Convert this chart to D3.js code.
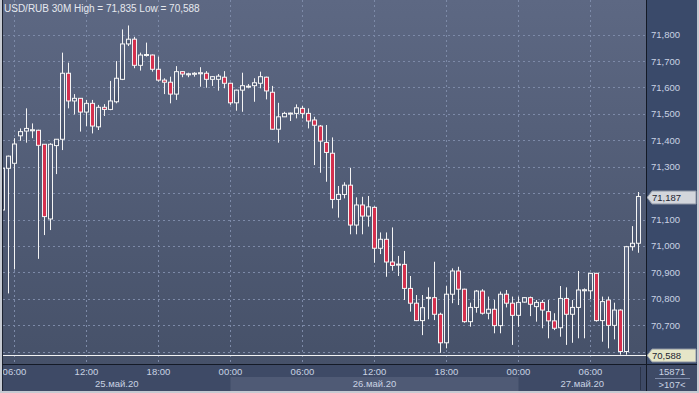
<!DOCTYPE html>
<html>
<head>
<meta charset="utf-8">
<script src="https://cdn.jsdelivr.net/npm/d3@7"></script>
<style>
  body { margin: 0; background: #c6cad2; }
  svg { display: block; font-family: "Liberation Sans", Arial, sans-serif; }
</style>
</head>
<body>
<svg id="chart"></svg>
<script>
// data (30 minute bars, first one 25 May 05:00)
const symbol = "USD/RUB 30M"
const firstBar = "2020-05-25T05:00:00Z"

const opens = [71136, 71294, 71313, 71417, 71435, 71436, 71438, 71385, 71102, 71380,
  71404, 71654, 71549, 71559, 71507, 71540, 71451, 71525, 71517, 71546,
  71631, 71765, 71783, 71684, 71723, 71723, 71669, 71628, 71620, 71575,
  71660, 71648, 71650, 71652, 71654, 71631, 71631, 71639, 71616, 71542,
  71590, 71602, 71607, 71616, 71639, 71582, 71442, 71489, 71500, 71502,
  71521, 71502, 71477, 71454, 71392, 71351, 71176, 71195, 71230, 71079,
  71155, 71113, 71146, 70991, 71025, 70939, 70928, 70930, 70839, 70783,
  70717, 70802, 70804, 70741, 70633, 70817, 70905, 70836, 70713, 70767,
  70829, 70745, 70760, 70698, 70817, 70783, 70737, 70787, 70804, 70770,
  70786, 70751, 70716, 70690, 70801, 70741, 70767, 70830, 70830, 70896,
  70717, 70795, 70699, 70757, 70600, 70997, 71010]
const highs = [71310, 71342, 71408, 71445, 71521, 71464, 71440, 71386, 71389, 71405,
  71732, 71694, 71575, 71560, 71553, 71553, 71534, 71537, 71625, 71700,
  71820, 71835, 71792, 71732, 71770, 71725, 71717, 71635, 71641, 71681,
  71662, 71656, 71658, 71677, 71662, 71643, 71651, 71662, 71618, 71592,
  71656, 71613, 71635, 71660, 71641, 71606, 71542, 71508, 71505, 71536,
  71530, 71521, 71489, 71458, 71458, 71411, 71227, 71241, 71296, 71184,
  71186, 71189, 71150, 71051, 71051, 71070, 70962, 70981, 70886, 70814,
  70814, 70843, 70940, 70747, 70848, 70915, 70921, 70838, 70785, 70833,
  70836, 70808, 70795, 70827, 70833, 70808, 70808, 70806, 70808, 70795,
  70795, 70795, 70745, 70848, 70843, 70795, 70905, 70839, 70898, 70898,
  70808, 70808, 70785, 70760, 71000, 71075, 71204]
const lows = [71100, 70820, 70911, 71398, 71391, 71408, 70951, 71041, 71060, 71272,
  71363, 71521, 71498, 71433, 71454, 71426, 71439, 71492, 71514, 71540,
  71628, 71757, 71673, 71664, 71717, 71660, 71622, 71575, 71540, 71553,
  71639, 71639, 71641, 71603, 71599, 71606, 71588, 71597, 71534, 71512,
  71508, 71597, 71546, 71597, 71555, 71440, 71391, 71488, 71473, 71483,
  71483, 71445, 71306, 71277, 71243, 71142, 71107, 71180, 71044, 71044,
  71044, 71073, 70936, 70969, 70883, 70906, 70886, 70795, 70751, 70715,
  70662, 70722, 70719, 70595, 70612, 70783, 70776, 70709, 70694, 70747,
  70740, 70722, 70669, 70669, 70767, 70625, 70694, 70785, 70734, 70713,
  70688, 70650, 70681, 70656, 70625, 70633, 70650, 70650, 70798, 70713,
  70637, 70612, 70646, 70588, 70588, 70982, 70974]
const closes = [71294, 71340, 71386, 71433, 71445, 71440, 71381, 71111, 71385, 71404,
  71654, 71549, 71559, 71507, 71540, 71454, 71525, 71517, 71549, 71635,
  71765, 71783, 71684, 71723, 71725, 71669, 71628, 71620, 71575, 71660,
  71651, 71652, 71654, 71656, 71631, 71641, 71643, 71616, 71542, 71590,
  71607, 71605, 71618, 71641, 71587, 71442, 71489, 71502, 71503, 71523,
  71502, 71473, 71457, 71397, 71354, 71176, 71195, 71230, 71079, 71155,
  71113, 71148, 70991, 71025, 70939, 70926, 70931, 70839, 70783, 70717,
  70766, 70805, 70741, 70633, 70817, 70905, 70836, 70713, 70767, 70829,
  70745, 70760, 70698, 70817, 70783, 70737, 70786, 70804, 70779, 70786,
  70757, 70716, 70688, 70801, 70741, 70767, 70833, 70834, 70896, 70717,
  70789, 70699, 70757, 70600, 70997, 71010, 71187]

const priceTicks = [70600, 70700, 70800, 70900, 71000, 71100, 71200, 71300, 71400, 71500, 71600, 71700, 71800]
const highPrice = 71835
const lowPrice = 70588
const lastPrice = 71187
const volumeLabel = "15871"
const barsLabel = ">107<"

// layout
const width = 699
const height = 393
const plotLeft = 3
const plotRight = 646
const plotTop = 0
const plotBottom = 364
const panelRight = 697
const bottomEnd = 391

const red = "#d4304e"
const axisText = "#c9d2e3"

const ru = d3.timeFormatLocale({
  dateTime: "%A, %e %B %Y г. %X", date: "%d.%m.%Y", time: "%H:%M:%S",
  periods: ["AM", "PM"],
  days: ["воскресенье", "понедельник", "вторник", "среда", "четверг", "пятница", "суббота"],
  shortDays: ["вс", "пн", "вт", "ср", "чт", "пт", "сб"],
  months: ["января", "февраля", "марта", "апреля", "мая", "июня", "июля", "августа", "сентября", "октября", "ноября", "декабря"],
  shortMonths: ["янв", "фев", "мар", "апр", "май", "июн", "июл", "авг", "сен", "окт", "ноя", "дек"]
})
const dayFormat = ru.utcFormat("%d.%b.%y")
const hourFormat = d3.utcFormat("%H:%M")

const start = new Date(firstBar)
const times = opens.map((d, i) => d3.utcMinute.offset(start, 30 * i))
const I = d3.range(opens.length)

// 6 px per 30 min bar, 25 May 06:00 sits on x = 14.5
const xScale = d3.scaleUtc()
  .domain([new Date("2020-05-25T06:00:00Z"), new Date("2020-05-27T06:00:00Z")])
  .range([14.5, 14.5 + 96 * 6])
const yScale = d3.scaleLinear().domain([70700, 71800]).range([325.1, 34.7])

const svg = d3.select("#chart")
  .attr("width", width)
  .attr("height", height)
  .attr("viewBox", [0, 0, width, height])

const defs = svg.append("defs")
const grad = defs.append("linearGradient").attr("id", "bg").attr("x1", 0).attr("y1", 0).attr("x2", 0).attr("y2", 1)
grad.append("stop").attr("offset", "0%").attr("stop-color", "#5d6883")
grad.append("stop").attr("offset", "100%").attr("stop-color", "#465169")
defs.append("clipPath").attr("id", "plotClip")
  .append("rect").attr("x", plotLeft).attr("y", plotTop)
  .attr("width", plotRight - plotLeft).attr("height", plotBottom - plotTop)

// panels
svg.append("rect").attr("x", plotLeft).attr("y", plotTop)
  .attr("width", plotRight - plotLeft).attr("height", plotBottom - plotTop)
  .attr("fill", "url(#bg)")
svg.append("rect").attr("x", plotRight).attr("y", 0)
  .attr("width", panelRight - plotRight).attr("height", plotBottom)
  .attr("fill", "#3a4a6a")
svg.append("rect").attr("x", plotLeft).attr("y", plotBottom)
  .attr("width", panelRight - plotLeft).attr("height", bottomEnd - plotBottom)
  .attr("fill", "#3e4a66")

// day bands in the date row
const visible = [xScale.invert(plotLeft), xScale.invert(plotRight)]
const dayStarts = d3.utcDay.range(d3.utcDay.floor(visible[0]), visible[1])
const days = dayStarts.map(d => {
  const x0 = Math.max(plotLeft, xScale(d))
  const x1 = Math.min(plotRight, xScale(d3.utcDay.offset(d, 1)))
  return { d, x0, x1 }
})
svg.append("g").selectAll("rect")
  .data(days)
  .join("rect")
    .attr("x", d => d.x0)
    .attr("y", 377)
    .attr("width", d => d.x1 - d.x0)
    .attr("height", bottomEnd - 377)
    .attr("fill", (d, i) => i % 2 ? "#4f5a75" : "none")

const plot = svg.append("g").attr("clip-path", "url(#plotClip)")

// grid
const hourTicks = xScale.ticks(d3.utcHour.every(6)).filter(t => xScale(t) > plotLeft && xScale(t) < plotRight)
plot.append("g")
  .attr("stroke", "#7d8aa8")
  .attr("stroke-dasharray", "2,3")
  .call(g => g.selectAll(".h").data(priceTicks).join("line")
    .attr("x1", plotLeft).attr("x2", plotRight)
    .attr("y1", d => Math.round(yScale(d)) + 0.5).attr("y2", d => Math.round(yScale(d)) + 0.5))
  .call(g => g.selectAll(".v").data(hourTicks).join("line")
    .attr("x1", d => xScale(d)).attr("x2", d => xScale(d))
    .attr("y1", plotTop).attr("y2", plotBottom))

// low line
plot.append("line")
  .attr("x1", plotLeft).attr("x2", plotRight)
  .attr("y1", Math.round(yScale(lowPrice)) + 0.5).attr("y2", Math.round(yScale(lowPrice)) + 0.5)
  .attr("stroke", "#f2f2f2")

// candles
const candles = plot.append("g")
  .attr("stroke", "#f4f4f4")
  .selectAll("g")
  .data(I)
  .join("g")
    .attr("transform", i => `translate(${xScale(times[i])},0)`)

candles.append("line")
  .attr("y1", i => yScale(highs[i]))
  .attr("y2", i => yScale(lows[i]))

candles.append("rect")
  .attr("x", -2)
  .attr("width", 4)
  .attr("y", i => yScale(Math.max(opens[i], closes[i])))
  .attr("height", i => Math.max(1, Math.abs(yScale(opens[i]) - yScale(closes[i]))))
  .attr("fill", i => closes[i] < opens[i] ? red : "url(#bg)")

// title
svg.append("text")
  .attr("x", 4).attr("y", 12)
  .attr("fill", "#e6e9ef")
  .style("font-size", "10px")
  .text(`${symbol}  High = ${d3.format(",")(highPrice)} Low = ${d3.format(",")(lowPrice)}`)

// price axis - labels sitting under the price boxes are hidden, as in the terminal
const boxed = [lastPrice, lowPrice]
svg.append("g")
  .selectAll("text")
  .data(priceTicks.filter(t => boxed.every(b => Math.abs(yScale(t) - yScale(b)) > 10)))
  .join("text")
    .attr("x", 651)
    .attr("y", d => yScale(d) + 3.5)
    .attr("fill", axisText)
    .style("font-size", "9.5px")
    .text(d => d3.format(",")(d))

const priceBox = (value, fill) => {
  const y = Math.round(yScale(value)) + 0.5
  const g = svg.append("g")
  g.append("path")
    .attr("d", `M${plotRight + 1},${y} L${plotRight + 6},${y - 6.5} L${panelRight - 1},${y - 6.5} L${panelRight - 1},${y + 6.5} L${plotRight + 6},${y + 6.5} Z`)
    .attr("fill", fill)
    .attr("stroke", "#8a92a2")
  g.append("text")
    .attr("x", 652).attr("y", y + 3.5)
    .attr("fill", "#1e2532")
    .style("font-size", "9.5px")
    .text(d3.format(",")(value))
}
priceBox(lastPrice, "#d3d6dc")
priceBox(lowPrice, "#e6e6c8")

// time axis
svg.append("g")
  .selectAll("text")
  .data(hourTicks)
  .join("text")
    .attr("x", d => Math.max(xScale(d), 14))
    .attr("y", 375)
    .attr("text-anchor", "middle")
    .attr("fill", axisText)
    .style("font-size", "9.5px")
    .text(d => hourFormat(d))

svg.append("g")
  .selectAll("text")
  .data(days)
  .join("text")
    .attr("x", d => (d.x0 + d.x1) / 2)
    .attr("y", 387)
    .attr("text-anchor", "middle")
    .attr("fill", axisText)
    .style("font-size", "9.5px")
    .text(d => dayFormat(d.d))

// bottom right info box
svg.append("text").attr("x", 672).attr("y", 375).attr("text-anchor", "middle")
  .attr("fill", axisText).style("font-size", "9.5px").text(volumeLabel)
svg.append("line").attr("x1", 655).attr("x2", 690).attr("y1", 378.5).attr("y2", 378.5)
  .attr("stroke", "#7d8aa8")
svg.append("text").attr("x", 672).attr("y", 388).attr("text-anchor", "middle")
  .attr("fill", axisText).style("font-size", "9.5px").text(barsLabel)

// separators
svg.append("line").attr("x1", 2.5).attr("x2", 2.5).attr("y1", 0).attr("y2", bottomEnd).attr("stroke", "#1c2230")
svg.append("line").attr("x1", plotRight + 0.5).attr("x2", plotRight + 0.5).attr("y1", 0).attr("y2", bottomEnd).attr("stroke", "#141a26")
svg.append("line").attr("x1", 640.5).attr("x2", 640.5).attr("y1", plotBottom + 3).attr("y2", bottomEnd - 1).attr("stroke", "#2a3348")
svg.append("line").attr("x1", 2).attr("x2", panelRight).attr("y1", plotBottom + 0.5).attr("y2", plotBottom + 0.5).attr("stroke", "#141a26")
</script>
</body>
</html>
